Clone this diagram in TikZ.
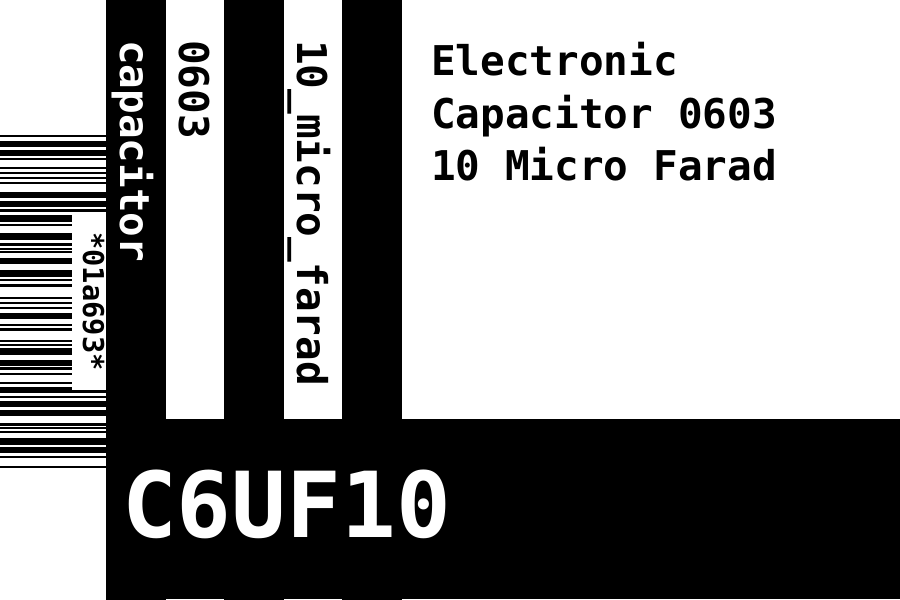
\documentclass[tikz,border=0pt]{standalone}
\usepackage{fontspec}
\setmonofont{DejaVu Sans Mono}
\begin{document}
\begin{tikzpicture}[
		x={(1pt,0pt)},
		y={(0pt,-1pt)},
		vert/.style={rotate=-90,anchor=base west,inner sep=0pt,font=\ttfamily\bfseries\fontsize{41}{41}\selectfont},
		desc/.style={anchor=base west,inner sep=0pt,font=\ttfamily\bfseries\fontsize{41}{41}\selectfont},
	]
	\useasboundingbox (0,0) rectangle (900,600);
	
	% barcode
	\foreach \y/\h in {135/2.4, 140.7/6, 150/6, 158/2.4, 167/2.4, 171.7/2.4, 176.7/2.4, 181.7/2.4, 191.7/6.6, 200.7/6, 209/2.6, 215/6.6, 224/2.4, 233/6.6, 243.3/2.6, 247.5/2.4, 251/2.4, 257.7/5.8, 270/6.6, 279/2.4, 284.3/2.4, 296.7/2.4, 301.7/2.4, 306.7/2.4, 313.3/6, 324/2.4, 328.3/2.4, 340/2.4, 344/2.4, 348.3/6.6, 360/5.5, 367.3/2.4, 372.7/2.4, 381.7/2.4, 386.7/6.6, 396/2.4, 400.7/6, 410/6, 423.3/2.4, 426.7/2.4, 431/2.4, 438.3/6.6, 447.3/6, 456/2.4, 466/2.4}{
		\fill (0,\y) rectangle (106,{\y+\h});
	}
	\fill[white] (72,213) rectangle (106,390);
	\node[rotate=-90,anchor=base,inner sep=0pt,font=\ttfamily\bfseries\fontsize{28.7}{28.7}\selectfont] (code) at (83,301.5) {*01a693*};
	
	% stripes and band
	\foreach \x in {106,224,342}{
		\fill ({\x},0) rectangle ({\x+60},600);
	}
	\fill (106,419) rectangle (900,599);
	
	\node[vert,white] (kind) at (120,40) {capacitor};
	\node[vert] (size) at (179,40) {0603};
	\node[vert] (value) at (297,40) {10\_micro\_farad};
	
	\foreach \t [count=\i] in {Electronic, Capacitor 0603, 10 Micro Farad}{
		\node[desc] (desc\i) at (431,{75.7+(\i-1)*52.3}) {\t};
	}
	
	\node[anchor=base west,inner sep=0pt,white,font=\ttfamily\bfseries\fontsize{91}{91}\selectfont] (part) at (122,537) {C6UF10};
\end{tikzpicture}
\end{document}
